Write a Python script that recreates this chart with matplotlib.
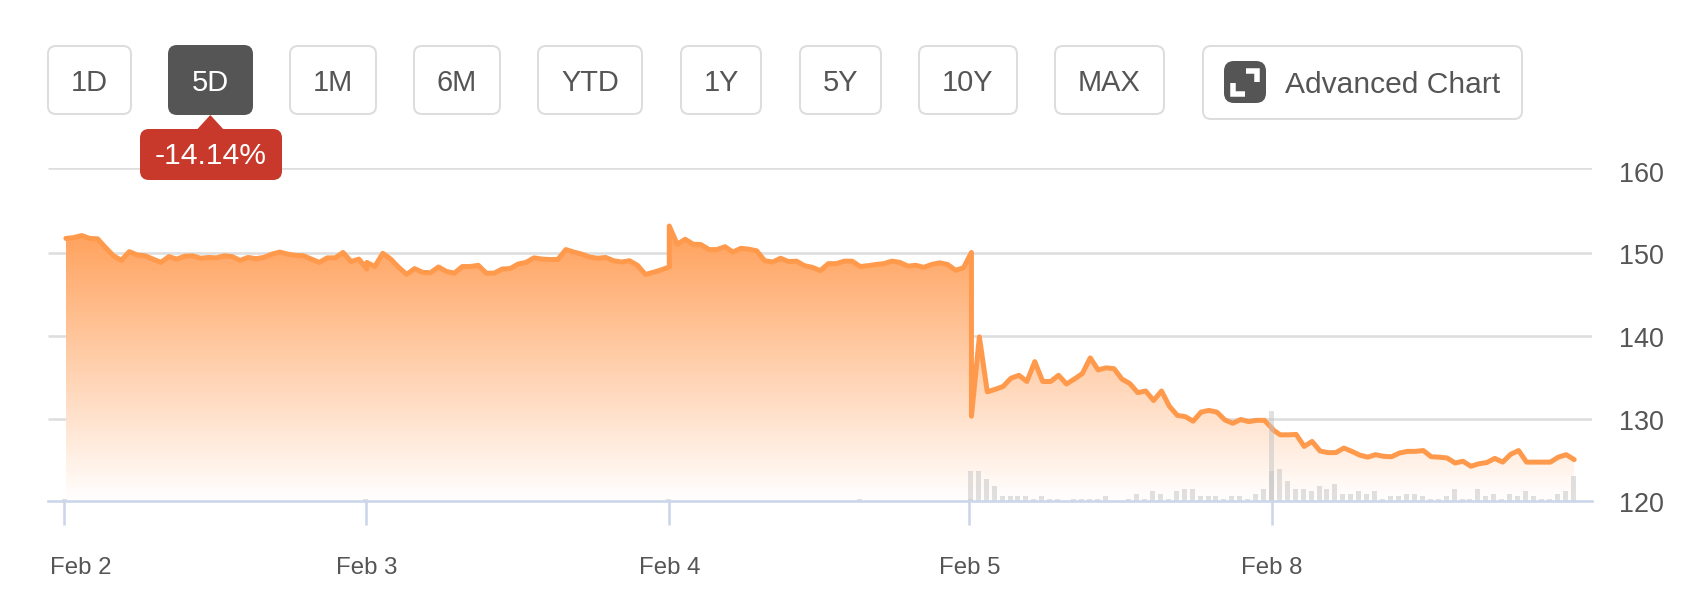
import numpy as np
import matplotlib
matplotlib.use("Agg")
import matplotlib.pyplot as plt
from matplotlib.colors import LinearSegmentedColormap
from matplotlib.patches import FancyBboxPatch, Polygon
from matplotlib.transforms import ScaledTranslation

plt.rcParams['font.family'] = ['Liberation Sans', 'DejaVu Sans']

# price per session, 39 readings a day
feb2 = [151.8, 151.9, 152.15, 151.8, 151.75, 150.7, 149.7, 149.15, 150.2, 149.8, 149.7, 149.3, 148.9,
        149.6, 149.3, 149.65, 149.7, 149.4, 149.5, 149.45, 149.7, 149.6, 149.15, 149.5, 149.35, 149.5,
        149.9, 150.15, 149.9, 149.75, 149.7, 149.3, 148.9, 149.45, 149.45, 150.1, 149.0, 149.3, 148.1]
feb3 = [148.9, 148.4, 150.0, 149.3, 148.3, 147.45, 148.15, 147.7, 147.65, 148.35, 147.8, 147.6, 148.4,
        148.4, 148.55, 147.6, 147.6, 148.1, 148.15, 148.7, 148.9, 149.45, 149.3, 149.25, 149.25, 150.45,
        150.15, 149.9, 149.55, 149.4, 149.5, 149.1, 148.95, 149.1, 148.55, 147.45, 147.7, 148.0, 148.35]
feb4 = [153.3, 151.1, 151.7, 151.1, 151.05, 150.45, 150.45, 150.8, 150.15, 150.6, 150.5, 150.3, 149.1,
        148.95, 149.4, 149.0, 149.05, 148.5, 148.3, 147.9, 148.75, 148.75, 149.05, 149.05, 148.4, 148.5,
        148.65, 148.75, 149.05, 148.9, 148.45, 148.55, 148.3, 148.65, 148.85, 148.65, 147.95, 148.25, 150.1]
feb5 = [130.3, 139.9, 133.25, 133.55, 133.9, 134.9, 135.25, 134.5, 136.9, 134.5, 134.5, 135.25, 134.2,
        134.8, 135.45, 137.35, 135.9, 136.15, 136.05, 134.8, 134.25, 133.15, 133.35, 132.2, 133.35, 131.5,
        130.4, 130.25, 129.7, 130.8, 131.0, 130.8, 129.85, 129.45, 129.9, 129.65, 129.8, 129.8, 128.8]
feb8 = [128.7, 128.05, 128.05, 128.1, 126.65, 127.25, 126.1, 125.9, 125.9, 126.45, 126.05, 125.6, 125.35,
        125.65, 125.45, 125.4, 125.85, 126.05, 126.05, 126.15, 125.4, 125.35, 125.25, 124.65, 124.85, 124.25,
        124.55, 124.7, 125.2, 124.75, 125.7, 126.15, 124.75, 124.75, 124.75, 124.75, 125.35, 125.65, 125.05]

# volume per session, same readings
vol_feb2 = [1] + [0] * 38
vol_feb3 = [1] + [0] * 38
vol_feb4 = [1] + [0] * 23 + [1] + [0] * 13 + [1]
vol_feb5 = [12, 12, 9, 6, 2, 2, 2, 2, 1, 2, 1, 1, 0, 1, 1, 1, 1, 2, 0, 0, 1, 3, 1, 4, 3, 1, 4, 5, 5, 2, 2, 2,
            1, 2, 2, 1, 3, 5, 36]
vol_feb8 = [12, 13, 8, 5, 5, 4, 6, 5, 7, 3, 3, 4, 3, 4, 1, 2, 2, 3, 3, 2, 1, 1, 2, 5, 1, 1, 5, 2, 3, 1, 3, 2,
            4, 2, 1, 1, 3, 4, 10]

sessions = [feb2, feb3, feb4, feb5, feb8]
volumes = [vol_feb2, vol_feb3, vol_feb4, vol_feb5, vol_feb8]
session_edges = [0.003, 0.997, 1.996, 2.994, 3.988, 4.985]
tick_days = [-0.002, 0.995, 1.996, 2.987, 3.986]
tick_labels = ['Feb 2', 'Feb 3', 'Feb 4', 'Feb 5', 'Feb 8']
price_ticks = [120, 130, 140, 150, 160]
grid_levels = [130, 140, 150, 160.28]  # top line sits a little above 160 in the source

button_labels = ['1D', '5D', '1M', '6M', 'YTD', '1Y', '5Y', '10Y', 'MAX']
button_left = [48, 169, 290, 414, 538, 681, 800, 919, 1055]
button_right = [131, 252, 376, 500, 642, 761, 881, 1017, 1164]
change_text = '-14.14%'

W, H = 1687, 615
INK = '#555555'
AXIS = '#ccd6eb'
px = 72 / 100  # points per pixel at dpi 100

x = np.concatenate([np.linspace(session_edges[i], session_edges[i + 1], 39) for i in range(5)])
price = np.concatenate(sessions)
vol = np.concatenate(volumes)

fig = plt.figure(figsize=(W / 100, H / 100), dpi=100, facecolor='white')
top, bottom = 168.3, 501.4
ax = fig.add_axes([48 / W, 1 - bottom / H, (1592 - 48) / W, (bottom - top) / H])
xlim = ((48 - 65) / 302.75, (1592 - 65) / 302.75)
ylim = (120, 160.28)
ax.set_xlim(xlim)
ax.set_ylim(ylim)
for s in ax.spines.values():
    s.set_visible(False)
ax.hlines(grid_levels, xlim[0], xlim[1], color='#dedede', lw=2.6 * px, zorder=1)

# area under the line, fading to white
cmap = LinearSegmentedColormap.from_list('fade', ['#ffffff', '#ff9f58'])
grad = np.linspace(1, 0, 256).reshape(-1, 1)
im = ax.imshow(grad, cmap=cmap, vmin=0, vmax=1, aspect='auto', zorder=1.5,
               extent=[x[0], x[-1], 120, price.max()])
poly = Polygon(np.column_stack([np.r_[x[0], x, x[-1]], np.r_[120, price, 120]]),
               closed=True, transform=ax.transData, fc='none', ec='none')
ax.add_patch(poly)
im.set_clip_path(poly)
ax.set_xlim(xlim)
ax.set_ylim(ylim)

ax.plot(x, price, color='#ff9a4d', lw=5 * px, zorder=2, solid_joinstyle='round', solid_capstyle='round')

# volume bars share the plot area, own scale
ax_vol = ax.twinx()
ax_vol.set_ylim(0, (bottom - top) / 2.5)
ax_vol.set_yticks([])
for name, s in ax_vol.spines.items():
    s.set_visible(name == 'bottom')
ax_vol.spines['bottom'].set_color(AXIS)
ax_vol.spines['bottom'].set_linewidth(2.6 * px)
ax_vol.bar(x - 1 / 302.75, vol, width=5 / 302.75, color='#c3c3c3', alpha=0.5)

# twinx puts the price ticks back on the left, so set them up after it
ax.yaxis.tick_right()
ax.set_yticks(price_ticks)
ax.set_yticklabels(price_ticks, fontsize=27 * px, color=INK)
ax.tick_params(axis='y', length=0, pad=27 * px)
for lab in ax.get_yticklabels():
    lab.set_transform(lab.get_transform() + ScaledTranslation(0, -1 / 100, fig.dpi_scale_trans))

ax.set_xticks(tick_days)
ax.set_xticklabels(tick_labels, fontsize=24 * px, color=INK)
ax.tick_params(axis='x', length=24 * px, width=2.6 * px, color=AXIS, pad=32 * px)
first = ax.get_xticklabels()[0]
first.set_transform(first.get_transform() + ScaledTranslation(16 / 100, 0, fig.dpi_scale_trans))

# toolbar above the chart, drawn in pixel space
ui = fig.add_axes([0, 0, 1, 1], facecolor='none')
ui.set_xlim(0, W)
ui.set_ylim(H, 0)
ui.axis('off')


def box(x0, y0, x1, y1, fc, ec, r=8):
    ui.add_patch(FancyBboxPatch((x0, y0), x1 - x0, y1 - y0, boxstyle=f'round,pad=0,rounding_size={r}',
                                fc=fc, ec=ec, lw=2 * px))


for lab, l, r in zip(button_labels, button_left, button_right):
    on = lab == '5D'
    box(l, 46, r, 114, INK if on else 'white', INK if on else '#dddddd')
    ui.text((l + r) / 2, 90.7, lab, ha='center', va='baseline', fontsize=29 * px, color='white' if on else INK)

box(1203, 46, 1522, 119, 'white', '#dddddd')
box(1225, 62, 1265, 102, INK, INK, r=9)
ui.plot([1246, 1257, 1257], [71, 71, 82], color='white', lw=5.5 * px, solid_joinstyle='miter', solid_capstyle='butt')
ui.plot([1233, 1233, 1245], [83, 94, 94], color='white', lw=5.5 * px, solid_joinstyle='miter', solid_capstyle='butt')
ui.text(1285, 93.3, 'Advanced Chart', ha='left', va='baseline', fontsize=30 * px, color=INK)

ui.add_patch(Polygon([[195.7, 131], [210.3, 115], [225, 131]], closed=True, fc='#c9392b', ec='none'))
box(141, 130, 281, 179, '#c9392b', '#c9392b', r=8)
ui.text(211, 164.3, change_text, ha='center', va='baseline', fontsize=30 * px, color='white')

fig.savefig('out.png', dpi=100)
